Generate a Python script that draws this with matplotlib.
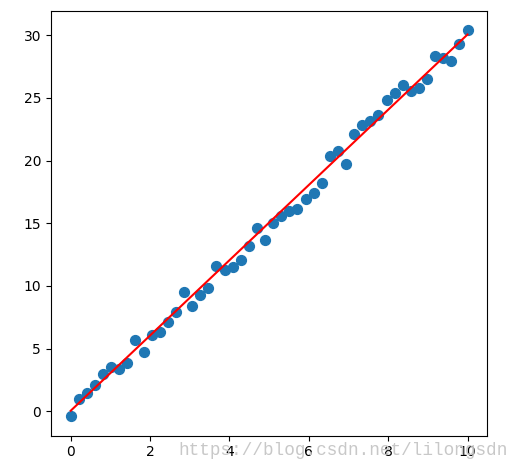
import numpy as np
import matplotlib.pyplot as plt

# sample points
x = np.linspace(0, 10, 50)
y = [-0.4, 1.0, 1.5, 2.1, 3.0, 3.5, 3.35, 3.85, 5.7, 4.7,
     6.1, 6.3, 7.1, 7.9, 9.5, 8.4, 9.25, 9.85, 11.6, 11.25,
     11.5, 12.1, 13.2, 14.6, 13.7, 15.05, 15.6, 16.0, 16.1, 16.9,
     17.4, 18.2, 20.35, 20.75, 19.75, 22.1, 22.8, 23.15, 23.65, 24.8,
     25.4, 26.05, 25.55, 25.8, 26.5, 28.3, 28.15, 27.9, 29.3, 30.4]

# fitted line end points
line_x = [0, 10]
line_y = [0.05, 30.05]

fig = plt.figure(figsize=(5.19, 4.70), dpi=100)
ax = fig.add_subplot(111)
fig.subplots_adjust(left=0.098, right=0.939, top=0.977, bottom=0.073)

ax.scatter(x, y, s=50)
ax.plot(line_x, line_y, color='r')

fig.text(0.343, 0.042, "https://blog.csdn.net/lilongsdn", color='#c8c8c8',
         family='Liberation Mono', fontsize=12.7, va='center')

plt.savefig("out.png")
